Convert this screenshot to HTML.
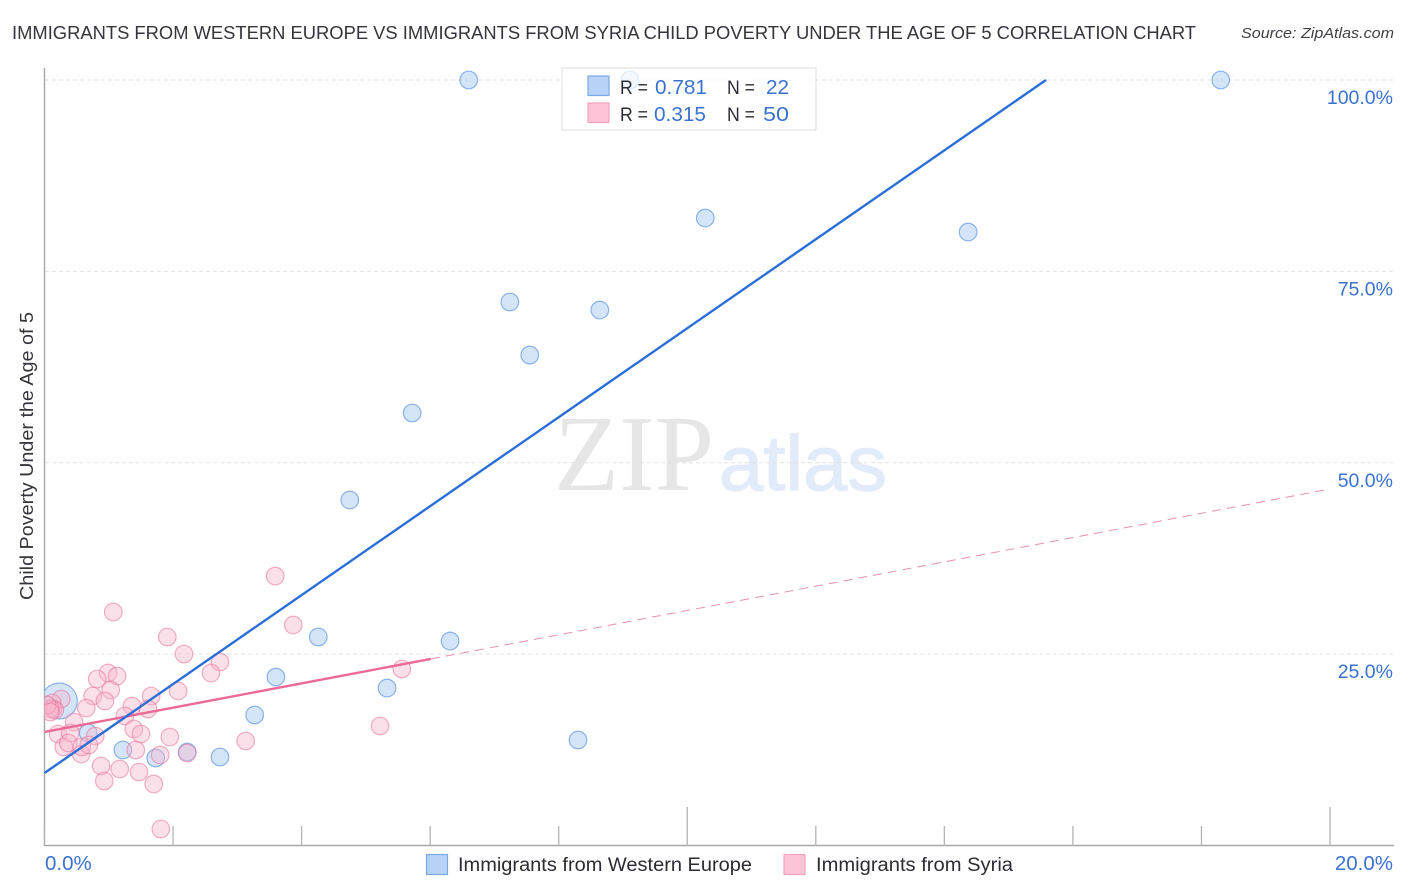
<!DOCTYPE html>
<html lang="en">
<head>
<meta charset="utf-8">
<title>Child Poverty Correlation Chart</title>
<style>
html,body{margin:0;padding:0;background:#fff;}
svg{display:block;font-family:"Liberation Sans",sans-serif;}
</style>
</head>
<body>
<svg id="chart" xmlns="http://www.w3.org/2000/svg" width="1406" height="892" viewBox="0 0 1406 892">
  <defs>
    <clipPath id="plot-clip"><rect x="44.5" y="0" width="1350" height="846"/></clipPath>
  </defs>
  <rect x="0" y="0" width="1406" height="892" fill="#ffffff"/>
  <text x="12" y="39" font-size="18.5" fill="#34343c" textLength="1184" lengthAdjust="spacingAndGlyphs">IMMIGRANTS FROM WESTERN EUROPE VS IMMIGRANTS FROM SYRIA CHILD POVERTY UNDER THE AGE OF 5 CORRELATION CHART</text>
  <text x="1241" y="38" font-size="15" font-style="italic" fill="#3f3f46" textLength="153" lengthAdjust="spacingAndGlyphs">Source: ZipAtlas.com</text>
  <g>
    <text x="554" y="490" font-family="'Liberation Serif',serif" font-size="108" fill="#e6e6e6" textLength="160" lengthAdjust="spacingAndGlyphs">ZIP</text>
    <text x="719" y="490" font-size="78" fill="#e2ebf9" stroke="#e2ebf9" stroke-width="1.200" textLength="168" lengthAdjust="spacingAndGlyphs">atlas</text>
  </g>
  <g id="grid"></g>
  <g id="axes"></g>
  <g id="points-europe" clip-path="url(#plot-clip)"></g>
  <g id="points-syria" clip-path="url(#plot-clip)"></g>
  <g id="trends"></g>
  <g id="tick-labels"></g>
  <text transform="translate(33,456) rotate(-90)" text-anchor="middle" font-size="18" fill="#34343c" textLength="288" lengthAdjust="spacingAndGlyphs">Child Poverty Under the Age of 5</text>

  <g>
    <rect x="562" y="68" width="254" height="62" fill="#ffffff" fill-opacity="0.72" stroke="#dddddd" stroke-width="1"/>
    <rect x="588" y="76" width="21" height="19.500" fill="#b7d3f7" stroke="#7ba9e3" stroke-width="1.200"/>
    <rect x="588" y="103" width="21" height="19.500" fill="#fcc4d6" stroke="#f3a3bc" stroke-width="1.200"/>
    <text x="620" y="94" font-size="19" fill="#2b2b33" textLength="28" lengthAdjust="spacingAndGlyphs">R =</text>
    <text x="655" y="94" font-size="20" fill="#3a72d0" textLength="52" lengthAdjust="spacingAndGlyphs">0.781</text>
    <text x="727" y="94" font-size="19" fill="#2b2b33" textLength="28" lengthAdjust="spacingAndGlyphs">N =</text>
    <text x="766" y="94" font-size="20" fill="#3a72d0" textLength="23" lengthAdjust="spacingAndGlyphs">22</text>
    <text x="620" y="121" font-size="19" fill="#2b2b33" textLength="28" lengthAdjust="spacingAndGlyphs">R =</text>
    <text x="654" y="121" font-size="20" fill="#3a72d0" textLength="52" lengthAdjust="spacingAndGlyphs">0.315</text>
    <text x="727" y="121" font-size="19" fill="#2b2b33" textLength="28" lengthAdjust="spacingAndGlyphs">N =</text>
    <text x="763" y="121" font-size="20" fill="#3a72d0" textLength="26" lengthAdjust="spacingAndGlyphs">50</text>
  </g>

  <g>
    <rect x="426.500" y="854.500" width="21" height="20" fill="#b7d3f7" stroke="#7ba9e3" stroke-width="1.200"/>
    <text x="458" y="871" font-size="19" fill="#2b2b33" textLength="294" lengthAdjust="spacingAndGlyphs">Immigrants from Western Europe</text>
    <rect x="784" y="854.500" width="21" height="20" fill="#fcc4d6" stroke="#f3a3bc" stroke-width="1.200"/>
    <text x="816" y="871" font-size="19" fill="#2b2b33" textLength="197" lengthAdjust="spacingAndGlyphs">Immigrants from Syria</text>
  </g>
</svg>
<script>
const europeX = [6.60,9.11,18.30,10.28,14.37,7.24,8.64,7.55,5.72,4.75,4.26,6.31,3.60,5.33,3.27,0.68,1.22,1.73,2.22,2.73,8.30,0.23];
const europeY = [100,100,100,81.97,80.14,71.00,69.95,64.07,56.50,45.13,27.24,26.71,22.01,20.57,17.05,14.70,12.48,11.43,12.21,11.56,13.78,18.88];
const syriaX = [1.91,2.17,2.73,2.59,0.99,1.13,0.82,1.03,0.75,0.94,0.65,1.66,2.08,1.36,1.61,1.25,1.39,1.50,1.95,1.42,1.80,2.22,3.13,0.88,1.17,1.47,1.70,0.93,1.81,0.79,0.46,0.21,0.40,0.30,0.37,0.57,0.58,0.69,0.26,0.12,0.13,0.16,0.09,0.04,0.09,1.07,3.59,3.87,5.22,5.56];
const syriaY = [27.24,25.02,23.97,22.53,22.53,22.14,21.75,20.31,19.53,18.88,17.96,19.53,20.18,18.22,17.83,16.92,15.22,14.57,14.17,12.48,11.82,12.08,13.65,10.39,9.99,9.60,8.03,8.43,2.16,14.30,16.13,14.57,14.70,12.87,13.39,11.95,12.87,13.13,19.14,18.62,17.83,17.70,17.83,18.35,17.44,30.50,35.20,28.80,15.61,23.06];
const europeLargeIndex = 21;
const europeIntercept = 9.47;
const europeSlope = 5.81;
const syriaIntercept = 14.83;
const syriaSlope = 1.587;
const syriaDataMaxX = 6.01;
const xDomainMax = 20;
const yTickValues = [25,50,75,100];
const yTickLabels = ["25.0%","50.0%","75.0%","100.0%"];
const xTickValues = [0,2,4,6,8,10,12,14,16,18,20];
const xTallTicks = [10,20];
const xEndLabels = ["0.0%","20.0%"];

const NS = "http://www.w3.org/2000/svg";
const plotLeft = 44.5, plotRight = 1330, plotBottom = 845.5, plotTop100 = 80;
function xScale(v){ return plotLeft + (plotRight - plotLeft) * v / xDomainMax; }
function yScale(v){ return plotBottom - (plotBottom - plotTop100) * v / 100; }
function make(tag, attrs){
  const el = document.createElementNS(NS, tag);
  for (const k in attrs) el.setAttribute(k, attrs[k]);
  return el;
}

const grid = document.getElementById("grid");
yTickValues.forEach(function(v){
  const line = make("line", {x1:45, x2:1393, y1:yScale(v), y2:yScale(v), stroke:"#e2e2e2", "stroke-width":1, "stroke-dasharray":"4 3"});
  
  
  grid.appendChild(line);
});

const axes = document.getElementById("axes");
const yAxis = make("line", {x1:44.5, x2:44.5, y1:68, y2:846, stroke:"#a8a8a8", "stroke-width":1.4});


axes.appendChild(yAxis);
const xAxis = make("line", {x1:44, x2:1394, y1:845.5, y2:845.5, stroke:"#a8a8a8", "stroke-width":1.4});


axes.appendChild(xAxis);
xTickValues.forEach(function(v){
  const tall = xTallTicks.indexOf(v) >= 0;
  const tick = make("line", {x1:xScale(v), x2:xScale(v), y1:tall ? 807 : 826, y2:845.5, stroke:"#b4b4b4", "stroke-width":1.3});
  
  
  axes.appendChild(tick);
});

const europeGroup = document.getElementById("points-europe");
europeX.forEach(function(x, i){
  const dot = make("circle", {cx:xScale(x), cy:yScale(europeY[i]), r:i === europeLargeIndex ? 18 : 8.8, fill:"#a9cbf5", "fill-opacity":0.5, stroke:"#5f97e0", "stroke-opacity":0.7, "stroke-width":1.2});
  
  
  europeGroup.appendChild(dot);
});

const syriaGroup = document.getElementById("points-syria");
syriaX.forEach(function(x, i){
  const dot = make("circle", {cx:xScale(x), cy:yScale(syriaY[i]), r:8.8, fill:"#f8b4ca", "fill-opacity":0.42, stroke:"#e8719a", "stroke-opacity":0.55, "stroke-width":1.2});
  
  
  syriaGroup.appendChild(dot);
});

const trends = document.getElementById("trends");
const syriaDashed = make("line", {x1:xScale(syriaDataMaxX), y1:yScale(syriaIntercept + syriaSlope * syriaDataMaxX), x2:xScale(xDomainMax), y2:yScale(syriaIntercept + syriaSlope * xDomainMax), stroke:"#e98fae", "stroke-width":1, "stroke-dasharray":"9 6"});


trends.appendChild(syriaDashed);
const syriaSolid = make("line", {x1:xScale(0), y1:yScale(syriaIntercept), x2:xScale(syriaDataMaxX), y2:yScale(syriaIntercept + syriaSlope * syriaDataMaxX), stroke:"#ec6a97", "stroke-width":2.4});


trends.appendChild(syriaSolid);
const europeEndX = (100 - europeIntercept) / europeSlope;
const europeLine = make("line", {x1:xScale(0), y1:yScale(europeIntercept), x2:xScale(europeEndX), y2:yScale(100), stroke:"#2a6fd6", "stroke-width":2.4});


trends.appendChild(europeLine);

const labels = document.getElementById("tick-labels");
yTickValues.forEach(function(v, i){
  const t = make("text", {x:1393, y:yScale(v) + 24, "text-anchor":"end", "font-size":19.5, fill:"#3a72d0"});
  
  
  t.textContent = yTickLabels[i];
  labels.appendChild(t);
});
const xStart = make("text", {x:45, y:870, "font-size":20.5, fill:"#3a72d0"});


xStart.textContent = xEndLabels[0];
labels.appendChild(xStart);
const xEnd = make("text", {x:1393, y:870, "text-anchor":"end", "font-size":20.5, fill:"#3a72d0"});


xEnd.textContent = xEndLabels[1];
labels.appendChild(xEnd);
</script>
</body>
</html>
